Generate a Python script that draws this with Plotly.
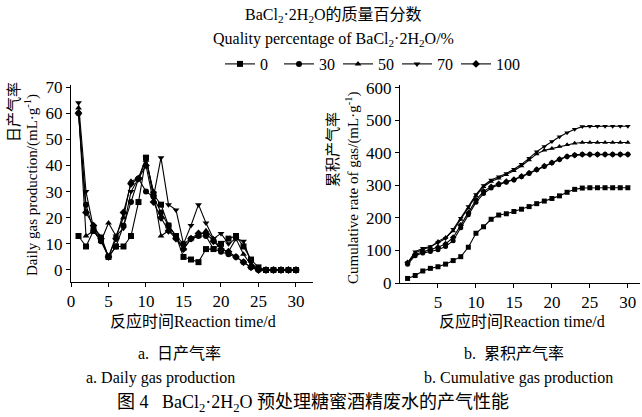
import plotly.graph_objects as go

days = list(range(1, 31))
series_names = ["0", "30", "50", "70", "100"]
symbols = ["square", "circle", "triangle-up", "triangle-down", "diamond"]

# Daily gas production (mL/g)
daily_0 = [13, 9, 15, 12, 5, 9, 9, 13, 26, 43, 29, 25, 17, 13, 5, 4, 3, 8, 8, 10, 12, 13, 9, 4, 1, 0, 0, 0, 0, 0]
daily_30 = [60, 25, 15, 11, 5, 9, 17, 26, 35, 30, 28, 22, 17, 13, 10, 12, 13, 13, 8, 7, 6, 5, 3, 1, 0, 0, 0, 0, 0, 0]
daily_50 = [62, 13, 15, 11, 18, 13, 20, 34, 35, 42, 30, 13, 15, 13, 8, 12, 13, 15, 12, 8, 7, 12, 6, 2, 0, 0, 0, 0, 0, 0]
daily_70 = [64, 30, 16, 13, 5, 13, 16, 30, 35, 43, 28, 43, 25, 23, 10, 17, 25, 18, 12, 14, 10, 12, 11, 3, 0, 0, 0, 0, 0, 0]
daily_100 = [60, 22, 17, 12, 5, 12, 22, 33, 35, 40, 26, 20, 15, 12, 8, 12, 14, 14, 11, 8, 7, 5, 3, 1, 0, 0, 0, 0, 0, 0]

# Cumulative gas production (mL/g)
cum_0 = [14, 23, 37, 45, 50, 58, 69, 81, 110, 153, 173, 196, 209, 213, 220, 227, 235, 244, 252, 260, 268, 279, 288, 292, 293, 293, 293, 293, 293, 293]
cum_30 = [58, 84, 92, 97, 102, 112, 130, 170, 210, 248, 275, 292, 302, 310, 317, 327, 337, 348, 358, 370, 380, 389, 394, 396, 396, 396, 396, 396, 396, 396]
cum_50 = [60, 92, 104, 110, 128, 140, 160, 195, 230, 268, 296, 312, 322, 333, 345, 360, 378, 397, 408, 414, 420, 425, 430, 432, 432, 432, 432, 432, 432, 432]
cum_70 = [62, 96, 107, 112, 124, 137, 165, 199, 235, 272, 300, 317, 327, 337, 350, 365, 384, 404, 420, 435, 450, 462, 473, 481, 482, 482, 482, 482, 482, 482]
cum_100 = [62, 88, 96, 102, 110, 120, 140, 178, 215, 255, 282, 296, 305, 312, 318, 328, 338, 349, 360, 370, 381, 389, 393, 395, 395, 395, 395, 395, 395, 395]

daily = [daily_0, daily_30, daily_50, daily_70, daily_100]
cum = [cum_0, cum_30, cum_50, cum_70, cum_100]

W, H = 642, 417
SERIF = "Liberation Serif, Times New Roman, Noto Sans CJK SC, serif"

def px(x):
    return x / W

def py(y):
    return 1 - y / H

fig = go.Figure()
for i, name in enumerate(series_names):
    fig.add_trace(go.Scatter(
        x=days, y=daily[i], name=name, mode="lines+markers",
        line=dict(color="black", width=1.1),
        marker=dict(symbol=symbols[i], size=6, color="black"),
        xaxis="x", yaxis="y", showlegend=True))
# empty spacer entry so the last legend label is not clipped
fig.add_trace(go.Scatter(x=[None], y=[None], name=" ", mode="lines",
                         line=dict(width=0, color="rgba(0,0,0,0)"),
                         xaxis="x", yaxis="y", showlegend=True, hoverinfo="skip"))
for i, name in enumerate(series_names):
    fig.add_trace(go.Scatter(
        x=days, y=cum[i], name=name, mode="lines+markers",
        line=dict(color="black", width=1.1),
        marker=dict(symbol=symbols[i], size=5, color="black"),
        xaxis="x2", yaxis="y2", showlegend=False))

axis_common = dict(showgrid=False, zeroline=False, showline=True, linecolor="black",
                   linewidth=1, ticks="outside", ticklen=4, tickcolor="black", automargin=False,
                   tickfont=dict(family=SERIF, size=17, color="black"))

fig.update_layout(
    template="none",
    width=W, height=H, autosize=False,
    margin=dict(l=0, r=0, t=0, b=0, pad=0, autoexpand=False),
    paper_bgcolor="white", plot_bgcolor="white",
    xaxis=dict(domain=[px(71), px(313)], range=[0, 32.27], tickvals=[0, 5, 10, 15, 20, 25, 30],
               anchor="y", **axis_common),
    yaxis=dict(domain=[py(282), py(85)], range=[-4.6, 70.8], tickvals=[0, 10, 20, 30, 40, 50, 60, 70],
               anchor="x", **axis_common),
    xaxis2=dict(domain=[px(400), px(640)], range=[0, 31.6], tickvals=[5, 10, 15, 20, 25, 30],
                anchor="y2", **axis_common),
    yaxis2=dict(domain=[py(283), py(85)], range=[0, 609], tickvals=[0, 100, 200, 300, 400, 500, 600],
                anchor="x2", **axis_common),
    legend=dict(orientation="h", x=px(220), y=py(64), xanchor="left", yanchor="middle",
                font=dict(family=SERIF, size=16, color="black"),
                entrywidth=14, entrywidthmode="pixels", itemwidth=30,
                bgcolor="rgba(0,0,0,0)", tracegroupgap=0),
    showlegend=True,
)

def ann(text, x, y, size=16, angle=0, xanchor="center"):
    fig.add_annotation(text=text, x=px(x), y=py(y), xref="paper", yref="paper",
                       showarrow=False, textangle=angle, xanchor=xanchor, yanchor="middle",
                       font=dict(family=SERIF, size=size, color="black"))

BA = "BaCl<sub>2</sub>·2H<sub>2</sub>O"
ann(BA + "的质量百分数", 333, 16, 16)
ann("Quality percentage of " + BA + "/%", 333, 40, 16)
ann("日产气率", 14, 112, 15, -90)
ann("Daily gas production/(mL·g<sup>-1</sup>)", 31, 185, 15, -90)
ann("累积产气率", 333, 150, 15, -90)
ann("Cumulative rate of gas/(mL·g<sup>-1</sup>)", 352, 188, 15, -90)
ann("反应时间Reaction time/d", 193, 321, 16)
ann("反应时间Reaction time/d", 522, 321, 16)
ann("a.  日产气率", 180, 353, 16)
ann("b.  累积产气率", 514, 353, 16)
ann("a. Daily gas production", 160, 378, 16)
ann("b. Cumulative gas production", 518, 378, 16)
ann("图 4   " + BA + " 预处理糖蜜酒精废水的产气性能", 313, 403, 18)

fig.write_html("out.html", config={"displayModeBar": False},
               post_script="document.body.style.margin='0';document.body.style.overflow='hidden';")
